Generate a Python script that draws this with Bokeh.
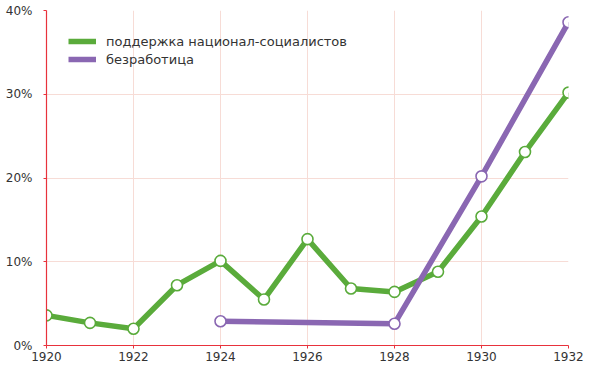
from bokeh.plotting import figure
from bokeh.models import FixedTicker, Legend, LegendItem, Range1d
from bokeh.embed import file_html
from bokeh.resources import INLINE

years_nsdap = [1920, 1921, 1922, 1923, 1924, 1925, 1926, 1927, 1928, 1929, 1930, 1931, 1932]
support_nsdap = [3.6, 2.7, 2.0, 7.2, 10.1, 5.5, 12.7, 6.8, 6.4, 8.8, 15.4, 23.1, 30.2]
years_unemp = [1924, 1928, 1930, 1932]
unemployment = [2.9, 2.6, 20.2, 38.6]

x_ticks = [1920, 1922, 1924, 1926, 1928, 1930, 1932]
y_ticks = [0, 10, 20, 30, 40]
y_tick_labels = ["0%", "10%", "20%", "30%", "40%"]
series_names = ["поддержка национал-социалистов", "безработица"]

GREEN = "#5aab3b"
PURPLE = "#8a67b2"
RED = "#e8323c"
GRID = "#f7dcd6"
FONT = "DejaVu Sans"

p = figure(width=584, height=366, output_backend="svg", toolbar_location=None,
           x_range=Range1d(1920, 1932), y_range=Range1d(0, 40),
           min_border_left=46, min_border_right=16, min_border_top=10, min_border_bottom=21)
p.outline_line_color = None
p.background_fill_color = "white"
p.border_fill_color = "white"

for ax in (p.xaxis[0], p.yaxis[0]):
    ax.axis_line_color = RED
    ax.axis_line_width = 1.2
    ax.major_tick_line_color = RED
    ax.major_tick_in = 0
    ax.major_tick_out = 3
    ax.minor_tick_line_color = None
    ax.major_label_text_font = FONT
    ax.major_label_text_font_size = "12px"
    ax.major_label_text_color = "#333333"

p.xaxis[0].ticker = FixedTicker(ticks=x_ticks)
p.xaxis[0].major_label_standoff = 3
p.xaxis[0].major_label_overrides = {t: str(t) for t in x_ticks}
p.yaxis[0].ticker = FixedTicker(ticks=y_ticks)
p.yaxis[0].major_label_standoff = 11
p.yaxis[0].major_label_overrides = dict(zip(y_ticks, y_tick_labels))

p.xgrid.grid_line_color = GRID
p.ygrid.grid_line_color = GRID
p.xgrid.ticker = FixedTicker(ticks=x_ticks)
p.ygrid.ticker = FixedTicker(ticks=y_ticks)

l1 = p.line(years_nsdap, support_nsdap, line_color=GREEN, line_width=5.5, line_join="round")
p.scatter(years_nsdap, support_nsdap, size=11, fill_color="white", line_color=GREEN, line_width=1.6)
l2 = p.line(years_unemp, unemployment, line_color=PURPLE, line_width=5.5, line_join="round")
p.scatter(years_unemp, unemployment, size=11, fill_color="white", line_color=PURPLE, line_width=1.6)

legend = Legend(items=[LegendItem(label=series_names[0], renderers=[l1]),
                       LegendItem(label=series_names[1], renderers=[l2])],
                location=(22, 277), margin=0, padding=0, spacing=0,
                glyph_width=28, glyph_height=18, label_height=18, label_standoff=10,
                label_text_font=FONT, label_text_font_size="13px", label_text_color="#333333",
                border_line_color=None, background_fill_alpha=0)
p.add_layout(legend, "center")

open("out.html", "w").write(file_html(p, INLINE))
